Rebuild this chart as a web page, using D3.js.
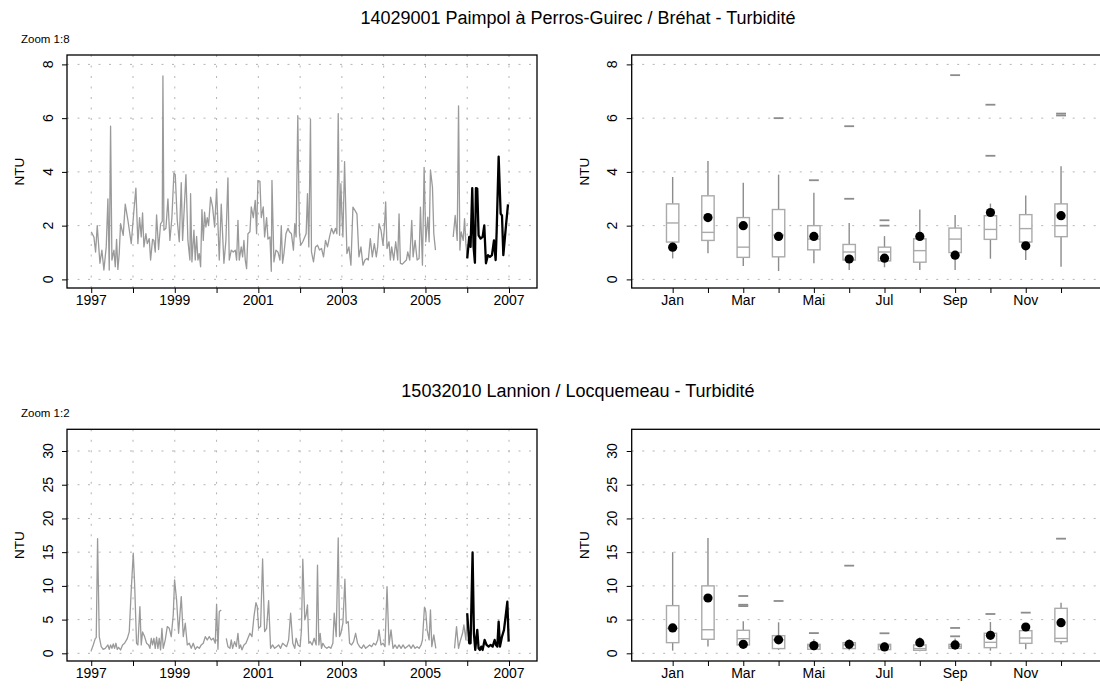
<!DOCTYPE html>
<html><head><meta charset="utf-8">
<script src="https://cdn.jsdelivr.net/npm/d3@7"></script>
<style>body{margin:0;background:#fff}svg{display:block;font-family:"Liberation Sans",Arial,sans-serif}</style>
</head><body><svg id="c" width="1100" height="698"></svg>
<script>
// ---------- DATA ----------
const titles = ["14029001 Paimpol à Perros-Guirec / Bréhat - Turbidité", "15032010 Lannion / Locquemeau - Turbidité"];
const zoomLabels = ["Zoom 1:8", "Zoom 1:2"];
const yLabel = "NTU";
const yearTicks = [1997,1998,1999,2000,2001,2002,2003,2004,2005,2006,2007];
const yearLabels = [1997,1999,2001,2003,2005,2007];
const months = ["Jan","Fév","Mar","Avr","Mai","Jun","Jul","Aoû","Sep","Oct","Nov","Déc"];
const monthLabelShown = ["Jan","Mar","Mai","Jul","Sep","Nov"];
const yTicksTop = [0,2,4,6,8];
const yTicksBottom = [0,5,10,15,20,25,30];

// station 1 history (gray), null = gap
const hist1 = [[1997.000,1.77],[1997.064,1.58],[1997.104,1.02],[1997.144,2.00],[1997.208,0.60],[1997.255,1.09],[1997.303,0.35],[1997.359,1.21],[1997.399,3.00],[1997.431,0.35],[1997.463,5.70],[1997.495,0.72],[1997.543,1.09],[1997.575,0.47],[1997.607,1.49],[1997.638,0.37],[1997.670,0.96],[1997.702,2.07],[1997.766,1.64],[1997.814,2.80],[1997.878,2.20],[1997.958,1.33],[1998.022,2.57],[1998.069,3.40],[1998.117,1.33],[1998.157,2.30],[1998.197,1.58],[1998.229,2.47],[1998.261,1.21],[1998.309,1.70],[1998.341,1.33],[1998.389,1.52],[1998.421,0.72],[1998.468,1.49],[1998.500,1.45],[1998.532,1.02],[1998.564,2.40],[1998.612,1.11],[1998.660,2.07],[1998.700,2.16],[1998.716,7.57],[1998.740,1.83],[1998.788,1.90],[1998.836,3.00],[1998.883,1.45],[1998.931,2.30],[1998.979,3.96],[1999.011,3.90],[1999.059,2.20],[1999.107,1.40],[1999.155,3.60],[1999.187,1.45],[1999.267,3.90],[1999.314,1.45],[1999.362,0.72],[1999.378,3.19],[1999.410,0.65],[1999.458,1.83],[1999.490,0.72],[1999.522,1.60],[1999.554,0.72],[1999.586,0.96],[1999.618,0.47],[1999.650,2.60],[1999.682,1.45],[1999.713,2.50],[1999.745,1.95],[1999.777,2.30],[1999.809,2.00],[1999.857,3.06],[1999.905,2.70],[1999.953,1.95],[2000.001,3.37],[2000.065,0.72],[2000.112,2.80],[2000.176,0.60],[2000.224,1.45],[2000.272,3.78],[2000.304,0.72],[2000.352,1.09],[2000.400,1.02],[2000.448,1.09],[2000.480,0.72],[2000.512,2.20],[2000.543,0.72],[2000.591,1.21],[2000.623,0.84],[2000.655,1.45],[2000.687,0.72],[2000.719,0.40],[2000.751,1.70],[2000.799,1.77],[2000.831,2.70],[2000.879,2.30],[2000.926,2.94],[2000.958,1.70],[2000.990,3.68],[2001.038,3.65],[2001.070,2.30],[2001.118,2.70],[2001.150,1.58],[2001.198,2.30],[2001.230,1.50],[2001.278,1.58],[2001.310,0.30],[2001.326,3.68],[2001.373,0.65],[2001.421,1.09],[2001.469,1.02],[2001.517,0.72],[2001.549,2.00],[2001.581,0.60],[2001.613,0.96],[2001.661,1.70],[2001.709,1.90],[2001.744,1.77],[2001.792,1.70],[2001.840,1.09],[2001.872,2.07],[2001.904,1.58],[2001.944,6.09],[2001.984,1.70],[2002.016,1.27],[2002.064,1.40],[2002.112,1.58],[2002.144,1.70],[2002.176,3.19],[2002.208,1.21],[2002.248,5.96],[2002.272,1.02],[2002.320,0.65],[2002.368,1.21],[2002.416,1.27],[2002.464,1.09],[2002.512,1.15],[2002.560,0.84],[2002.608,1.45],[2002.656,1.21],[2002.704,1.58],[2002.752,1.90],[2002.800,1.70],[2002.848,1.90],[2002.880,1.70],[2002.912,6.17],[2002.944,1.64],[2002.976,3.56],[2003.000,2.44],[2003.024,1.58],[2003.064,4.38],[2003.120,0.96],[2003.168,1.21],[2003.216,0.53],[2003.264,2.69],[2003.312,2.57],[2003.360,2.44],[2003.408,0.84],[2003.456,1.21],[2003.504,0.53],[2003.552,0.72],[2003.600,0.78],[2003.632,0.72],[2003.680,1.52],[2003.728,0.84],[2003.776,1.33],[2003.824,0.84],[2003.856,1.21],[2003.888,2.07],[2003.936,1.83],[2003.984,1.27],[2004.016,1.89],[2004.048,2.88],[2004.080,1.15],[2004.128,1.40],[2004.160,0.72],[2004.192,1.21],[2004.240,0.72],[2004.288,1.40],[2004.336,0.72],[2004.368,2.44],[2004.400,0.60],[2004.448,0.57],[2004.496,0.65],[2004.544,0.72],[2004.576,1.02],[2004.624,0.72],[2004.672,2.20],[2004.704,0.84],[2004.752,1.45],[2004.800,0.72],[2004.848,0.78],[2004.880,2.69],[2004.928,0.53],[2004.968,4.17],[2005.008,1.40],[2005.056,2.32],[2005.088,1.40],[2005.120,4.07],[2005.168,3.43],[2005.200,1.70],[2005.240,1.09],null,[2005.664,1.58],[2005.712,2.38],[2005.760,1.45],[2005.792,6.46],[2005.824,1.09],[2005.856,1.77],[2005.904,1.45],[2005.936,2.26],[2005.968,1.33],[2006.000,0.78]];
// station 1 current year (black)
const curr1 = [[2006.000,0.78],[2006.048,1.58],[2006.080,1.21],[2006.120,3.40],[2006.152,1.21],[2006.184,0.62],[2006.208,3.40],[2006.240,3.38],[2006.272,1.64],[2006.320,1.52],[2006.368,1.58],[2006.408,2.01],[2006.448,0.60],[2006.496,0.90],[2006.544,0.84],[2006.592,0.90],[2006.640,1.45],[2006.680,0.72],[2006.704,1.77],[2006.752,4.57],[2006.800,2.44],[2006.832,2.38],[2006.864,0.90],[2006.896,1.45],[2006.928,2.01],[2006.976,2.79]];

// station 2 history (gray)
const hist2 = [[1997.000,0.40],[1997.048,1.24],[1997.096,2.18],[1997.120,2.33],[1997.152,17.0],[1997.192,2.48],[1997.239,0.99],[1997.287,0.59],[1997.335,0.74],[1997.367,0.99],[1997.399,1.24],[1997.431,0.59],[1997.463,1.24],[1997.495,0.74],[1997.527,1.39],[1997.559,0.74],[1997.591,1.49],[1997.623,0.59],[1997.654,0.89],[1997.702,0.50],[1997.750,1.24],[1997.798,1.49],[1997.862,2.18],[1997.910,3.17],[1997.958,9.41],[1998.006,14.85],[1998.038,10.40],[1998.085,1.49],[1998.117,1.24],[1998.165,6.93],[1998.197,1.24],[1998.229,3.17],[1998.277,2.48],[1998.325,1.49],[1998.373,1.24],[1998.405,0.74],[1998.437,2.23],[1998.468,1.24],[1998.500,2.23],[1998.532,0.74],[1998.564,2.38],[1998.596,0.74],[1998.628,2.23],[1998.660,0.50],[1998.692,3.71],[1998.724,0.74],[1998.772,1.98],[1998.820,3.96],[1998.868,3.71],[1998.915,2.48],[1998.963,5.69],[1998.995,10.9],[1999.043,7.92],[1999.091,2.97],[1999.155,8.42],[1999.203,2.48],[1999.251,4.46],[1999.299,1.24],[1999.346,1.49],[1999.394,0.74],[1999.442,1.49],[1999.490,0.59],[1999.538,0.99],[1999.586,0.74],[1999.634,1.24],[1999.682,1.49],[1999.730,2.48],[1999.777,1.98],[1999.825,2.48],[1999.873,1.98],[1999.921,2.23],[1999.969,1.49],[2000.001,7.28],[2000.033,0.59],[2000.065,6.19],[2000.112,6.44],null,[2000.232,2.23],[2000.272,0.99],[2000.320,0.74],[2000.352,1.98],[2000.384,0.74],[2000.432,1.73],[2000.472,0.99],[2000.512,2.97],[2000.543,0.74],[2000.575,1.24],[2000.607,0.50],[2000.655,1.24],[2000.703,1.49],[2000.751,2.23],[2000.799,2.97],[2000.847,2.48],[2000.895,5.45],[2000.943,7.52],[2000.974,6.93],[2001.006,3.71],[2001.054,3.96],[2001.102,14.0],[2001.150,3.22],[2001.198,3.71],[2001.246,7.82],[2001.293,0.74],[2001.341,1.24],[2001.389,0.74],[2001.437,0.99],[2001.485,1.24],[2001.533,0.74],[2001.581,1.49],[2001.629,1.24],[2001.677,0.99],[2001.725,1.98],[2001.773,5.94],[2001.824,1.49],[2001.872,0.74],[2001.904,2.23],[2001.952,1.24],[2002.000,0.99],[2002.032,3.47],[2002.064,13.96],[2002.112,4.95],[2002.144,5.69],[2002.176,7.18],[2002.208,1.49],[2002.240,1.73],[2002.288,1.24],[2002.336,2.23],[2002.384,1.24],[2002.416,13.07],[2002.448,1.24],[2002.480,2.97],[2002.512,0.74],[2002.544,1.49],[2002.592,0.99],[2002.640,0.74],[2002.688,0.99],[2002.736,0.74],[2002.784,1.49],[2002.816,5.94],[2002.864,2.48],[2002.912,17.1],[2002.944,2.48],[2002.976,2.97],[2003.024,4.46],[2003.072,10.99],[2003.104,4.46],[2003.152,4.70],[2003.184,1.49],[2003.232,1.24],[2003.280,1.73],[2003.328,2.97],[2003.376,1.49],[2003.424,0.99],[2003.472,0.74],[2003.520,1.24],[2003.568,0.74],[2003.616,0.99],[2003.664,1.24],[2003.712,0.99],[2003.760,1.49],[2003.808,1.24],[2003.856,1.98],[2003.888,3.47],[2003.936,1.24],[2003.984,1.49],[2004.032,0.99],[2004.080,9.90],[2004.128,1.24],[2004.176,3.47],[2004.224,0.74],[2004.272,1.24],[2004.320,0.74],[2004.368,1.24],[2004.416,0.74],[2004.464,1.24],[2004.512,0.74],[2004.560,0.99],[2004.608,1.24],[2004.656,0.74],[2004.704,1.24],[2004.752,0.74],[2004.800,0.99],[2004.848,0.74],[2004.896,1.24],[2004.928,1.98],[2004.976,6.83],[2005.008,6.19],[2005.040,3.47],[2005.088,1.98],[2005.120,6.44],[2005.152,0.99],[2005.200,2.72],[2005.248,0.74],null,[2005.696,0.74],[2005.744,3.96],[2005.792,0.74],[2005.840,1.98],[2005.888,2.97],[2005.920,4.21],[2005.968,1.98],[2006.000,5.94]];
// station 2 current year (black)
const curr2 = [[2006.000,5.94],[2006.048,1.49],[2006.080,1.49],[2006.128,14.95],[2006.160,2.97],[2006.192,0.50],[2006.240,3.47],[2006.272,0.74],[2006.304,0.50],[2006.336,0.99],[2006.368,0.50],[2006.416,1.98],[2006.464,1.24],[2006.512,0.99],[2006.560,1.24],[2006.608,0.99],[2006.656,1.98],[2006.688,1.24],[2006.720,0.99],[2006.752,4.70],[2006.784,0.99],[2006.832,2.48],[2006.880,3.47],[2006.928,5.94],[2006.960,7.67],[2006.992,1.73]];

// monthly box statistics, station 1
const box1Low   = [0.78,0.97,0.50,0.31,0.60,0.35,0.45,0.35,0.35,0.77,0.72,0.47];
const box1Q1    = [1.39,1.45,0.82,0.84,1.10,0.72,0.69,0.64,1.00,1.49,1.39,1.59];
const box1Med   = [2.10,1.75,1.20,1.65,1.50,1.02,1.02,1.07,1.50,1.86,1.89,2.00];
const box1Q3    = [2.81,3.11,2.30,2.60,2.00,1.30,1.20,1.51,1.91,2.37,2.41,2.81];
const box1High  = [3.81,4.41,3.60,3.90,3.22,2.10,1.61,2.60,2.40,2.82,3.12,4.21];
const box1Mean  = [1.20,2.30,2.00,1.60,1.60,0.76,0.79,1.60,0.90,2.49,1.25,2.37];
const box1Out   = [[],[],[],[6.0],[3.69],[3.0,5.7],[2.0,2.2],[],[7.6],[4.6,6.5],[],[6.1,6.17]];

// monthly box statistics, station 2
const box2Low   = [0.40,1.00,0.90,0.50,0.45,0.45,0.40,0.30,0.50,0.40,0.60,1.33];
const box2Q1    = [1.58,2.08,1.24,0.70,0.60,0.70,0.55,0.45,0.74,0.84,1.48,1.73];
const box2Med   = [3.70,3.50,2.17,2.00,1.10,1.24,1.10,0.70,1.00,1.63,2.27,2.22];
const box2Q3    = [7.07,10.0,3.41,2.62,1.33,1.58,1.33,1.24,1.33,2.97,3.36,6.67];
const box2High  = [15.0,17.1,4.75,4.60,2.10,2.10,1.63,2.37,2.20,4.65,3.60,7.50];
const box2Mean  = [3.76,8.20,1.33,2.00,1.14,1.33,0.94,1.58,1.24,2.67,3.90,4.55];
const box2Out   = [[],[],[7.0,7.2,8.5],[7.76],[3.0],[13.0],[2.97],[],[2.52,3.76],[5.83],[6.03],[17.0]];

// ---------- DRAWING ----------
const svg = d3.select("#c");
const FONT = 14;
const gridColor = "#b4b4b4";

const panels = [
  {x0:67, x1:537, y0:55, y1:288},
  {x0:631.7, x1:1102, y0:55, y1:288},
  {x0:67, x1:537, y0:429.3, y1:661},
  {x0:631.7, x1:1102, y0:429.3, y1:661}
];

function yScaleFor(p, station){
  return station===0
    ? d3.scaleLinear().domain([-0.32, 8.35]).range([p.y1, p.y0])
    : d3.scaleLinear().domain([-1.14, 33.22]).range([p.y1, p.y0]);
}

function drawYAxis(p, y, ticks){
  const g = svg.append("g").attr("transform", `translate(${p.x0},0)`);
  g.call(d3.axisLeft(y).tickValues(ticks).tickSize(5).tickFormat(""));
  g.select(".domain").remove();
  g.selectAll(".tick line").attr("stroke","#000");
  ticks.forEach(t=>{
    svg.append("text").attr("transform",`translate(${p.x0-14.5},${y(t)}) rotate(-90)`)
      .attr("text-anchor","middle").attr("font-size",FONT).attr("fill","#000").text(t);
  });
  svg.append("text").attr("transform",`translate(${p.x0-43},${(p.y0+p.y1)/2}) rotate(-90)`)
    .attr("text-anchor","middle").attr("font-size",FONT-0.5).attr("fill","#000").text(yLabel);
}

function hgrid(p, y, ticks){
  svg.append("g").selectAll("line").data(ticks).join("line")
    .attr("x1",p.x0).attr("x2",p.x1).attr("y1",d=>y(d)).attr("y2",d=>y(d))
    .attr("stroke",gridColor).attr("stroke-width",1).attr("stroke-dasharray","2,8.5");
}

function frame(p){
  svg.append("rect").attr("x",p.x0).attr("y",p.y0).attr("width",p.x1-p.x0).attr("height",p.y1-p.y0)
    .attr("fill","none").attr("stroke","#000").attr("stroke-width",1.3);
}

function timePanel(p, station, hist, curr, yticks){
  const x = d3.scaleLinear().domain([1996.42, 2007.67]).range([p.x0, p.x1]);
  const y = yScaleFor(p, station);
  hgrid(p, y, yticks);
  svg.append("g").selectAll("line").data(yearTicks).join("line")
    .attr("x1",d=>x(d)).attr("x2",d=>x(d)).attr("y1",p.y0).attr("y2",p.y1)
    .attr("stroke",gridColor).attr("stroke-width",1).attr("stroke-dasharray","2,8.5");
  const line = d3.line().defined(d=>d!==null).x(d=>x(d[0])).y(d=>y(d[1]));
  svg.append("path").datum(hist).attr("d",line).attr("fill","none")
    .attr("stroke","#9a9a9a").attr("stroke-width",1.3).attr("stroke-linejoin","round");
  svg.append("path").datum(curr).attr("d",line).attr("fill","none")
    .attr("stroke","#000").attr("stroke-width",2.3).attr("stroke-linejoin","round");
  const gx = svg.append("g").attr("transform",`translate(0,${p.y1})`)
    .call(d3.axisBottom(x).tickValues(yearTicks).tickSize(5).tickFormat(""));
  gx.select(".domain").remove();
  gx.selectAll(".tick line").attr("stroke","#000");
  yearLabels.forEach(t=>{
    svg.append("text").attr("x",x(t)).attr("y",p.y1+17).attr("text-anchor","middle")
      .attr("font-size",FONT).attr("fill","#000").text(t);
  });
  drawYAxis(p, y, yticks);
  frame(p);
}

function boxPanel(p, station, low, q1, med, q3, high, mean, outs, yticks){
  const x = d3.scaleLinear().domain([-0.16, 13.16]).range([p.x0, p.x1]);
  const y = yScaleFor(p, station);
  hgrid(p, y, yticks);
  const idx = d3.range(1, months.length+1);
  const bw = 0.35;
  const g = svg.append("g");
  const data = idx.map((m,i)=>({m, low:low[i], q1:q1[i], med:med[i], q3:q3[i], high:high[i], mean:mean[i], out:outs[i]}));
  g.selectAll(".wu").data(data).join("line").attr("x1",d=>x(d.m)).attr("x2",d=>x(d.m))
    .attr("y1",d=>y(d.q3)).attr("y2",d=>y(d.high)).attr("stroke","#8c8c8c").attr("stroke-width",1.4);
  g.selectAll(".wl").data(data).join("line").attr("x1",d=>x(d.m)).attr("x2",d=>x(d.m))
    .attr("y1",d=>y(d.q1)).attr("y2",d=>y(d.low)).attr("stroke","#8c8c8c").attr("stroke-width",1.4);
  g.selectAll(".bx").data(data).join("rect")
    .attr("x",d=>x(d.m-bw/2)).attr("width",d=>x(d.m+bw/2)-x(d.m-bw/2))
    .attr("y",d=>y(d.q3)).attr("height",d=>y(d.q1)-y(d.q3))
    .attr("fill","#fff").attr("stroke","#aaaaaa").attr("stroke-width",1.4);
  g.selectAll(".md").data(data).join("line")
    .attr("x1",d=>x(d.m-bw/2)).attr("x2",d=>x(d.m+bw/2)).attr("y1",d=>y(d.med)).attr("y2",d=>y(d.med))
    .attr("stroke","#aaaaaa").attr("stroke-width",1.4);
  const od = data.flatMap(d=>d.out.map(v=>({m:d.m, v})));
  g.selectAll(".ol").data(od).join("line")
    .attr("x1",d=>x(d.m-0.14)).attr("x2",d=>x(d.m+0.14)).attr("y1",d=>y(d.v)).attr("y2",d=>y(d.v))
    .attr("stroke","#8c8c8c").attr("stroke-width",1.8);
  g.selectAll(".mn").data(data).join("circle").attr("cx",d=>x(d.m)).attr("cy",d=>y(d.mean))
    .attr("r",4.6).attr("fill","#000");
  const gx = svg.append("g").attr("transform",`translate(0,${p.y1})`)
    .call(d3.axisBottom(x).tickValues(idx).tickSize(5).tickFormat(""));
  gx.select(".domain").remove();
  gx.selectAll(".tick line").attr("stroke","#000");
  idx.forEach((m,i)=>{
    if (monthLabelShown.includes(months[i]))
      svg.append("text").attr("x",x(m)).attr("y",p.y1+17).attr("text-anchor","middle")
        .attr("font-size",FONT).attr("fill","#000").text(months[i]);
  });
  drawYAxis(p, y, yticks);
  frame(p);
}

timePanel(panels[0], 0, hist1, curr1, yTicksTop);
boxPanel(panels[1], 0, box1Low, box1Q1, box1Med, box1Q3, box1High, box1Mean, box1Out, yTicksTop);
timePanel(panels[2], 1, hist2, curr2, yTicksBottom);
boxPanel(panels[3], 1, box2Low, box2Q1, box2Med, box2Q3, box2High, box2Mean, box2Out, yTicksBottom);

// titles
svg.append("text").attr("x",578).attr("y",24).attr("text-anchor","middle").attr("font-size",18).text(titles[0]);
svg.append("text").attr("x",578).attr("y",397).attr("text-anchor","middle").attr("font-size",18).text(titles[1]);
svg.append("text").attr("x",21).attr("y",43).attr("font-size",11.5).text(zoomLabels[0]);
svg.append("text").attr("x",21).attr("y",417).attr("font-size",11.5).text(zoomLabels[1]);
</script></body></html>
